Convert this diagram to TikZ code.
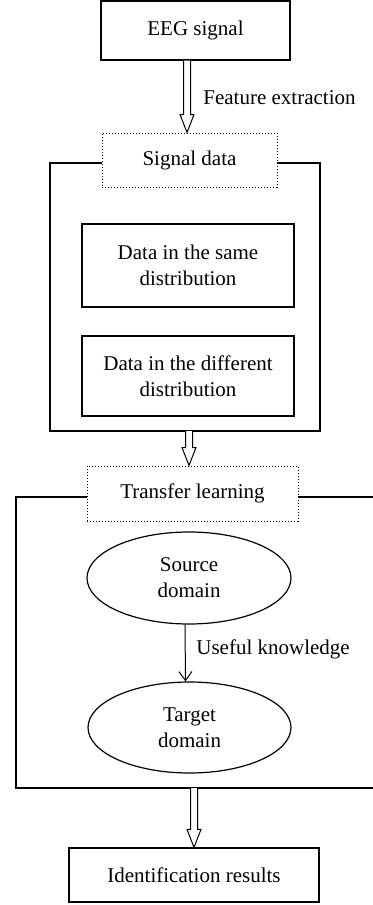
\documentclass[tikz,border=0pt]{standalone}
\usepackage{fontspec}
\setmainfont{Liberation Serif}
\usetikzlibrary{shapes.geometric,arrows.meta,calc}

% hollow block arrow, x taken from the lower end
\newcommand{\hollowarrow}[2]{%
  \draw[line width=0.5pt,fill=white] let \p1=(#1), \p2=(#2) in
    (\x2-1.75pt,\y1) -- (\x2-1.75pt,\y2+9pt) -- (\x2-3.5pt,\y2+9pt) -- (\x2,\y2)
    -- (\x2+3.5pt,\y2+9pt) -- (\x2+1.75pt,\y2+9pt) -- (\x2+1.75pt,\y1);}

\begin{document}
\begin{tikzpicture}[x=0.5pt,y=-0.5pt,
    box/.style={draw, line width=0.6pt, align=center, inner sep=0pt,
      font=\fontsize{10.5}{13}\selectfont},
    dotbox/.style={box, line width=0.5pt, dash pattern=on 0.5pt off 1pt, fill=white},
    oval/.style={box, ellipse},
    lbl/.style={inner sep=0pt, font=\fontsize{10.5}{13}\selectfont},
    frame/.style={line width=0.6pt}]
    \useasboundingbox (0,0) rectangle (373,905);

    \draw[frame] (50,163) rectangle (320,431);
    \draw[frame] (373,497) -- (16,497) -- (16,788) -- (373,788);
    \coordinate (frameA) at (185,431);
    \coordinate (frameB) at (194,788);

    \node[box, minimum width=94.5pt, minimum height=29.5pt] (eeg) at (195.5,30.5) {EEG signal};
    \node[dotbox, minimum width=87.5pt, minimum height=27pt] (sigdata) at (189.5,160) {Signal data};
    \node[box, minimum width=106pt, minimum height=41.5pt] (same) at (188,265.5) {Data in the same\\distribution};
    \node[box, minimum width=106pt, minimum height=40pt] (diff) at (188,376) {Data in the different\\distribution};
    \node[dotbox, minimum width=105.5pt, minimum height=27.5pt] (transfer) at (192.5,493.5) {Transfer learning};
    \node[oval, minimum width=102pt, minimum height=46pt] (source) at (189,578) {Source\\domain};
    \node[oval, minimum width=101.5pt, minimum height=45.5pt] (target) at (189.5,727.5) {Target\\domain};
    \node[box, minimum width=125pt, minimum height=27pt] (result) at (194,875) {Identification results};

    \hollowarrow{eeg.south}{[xshift=-1.25pt]sigdata.north}
    \hollowarrow{frameA}{[xshift=-1.75pt]transfer.north}
    \hollowarrow{frameB}{result.north}
    \node[lbl, anchor=west] (featlbl) at (203,98) {Feature extraction};

    \draw[line width=0.5pt, -{Straight Barb[length=4.5pt,width=6.5pt]}]
      ([xshift=-2pt]source.south) -- ([xshift=-2pt]target.north);
    \node[lbl, anchor=west] (uselbl) at (196,649) {Useful knowledge};
\end{tikzpicture}
\end{document}
